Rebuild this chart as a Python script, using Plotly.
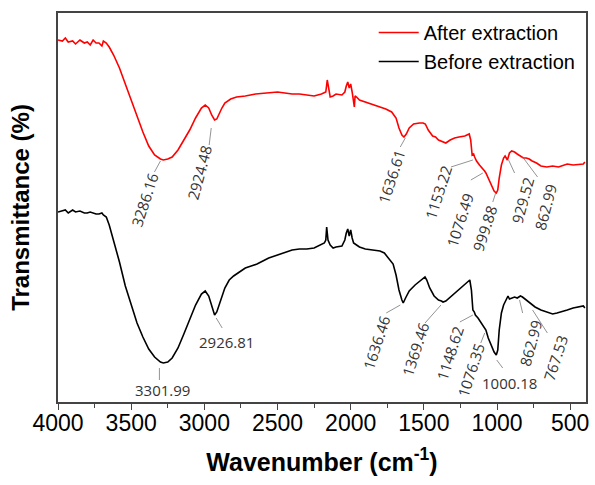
import plotly.graph_objects as go

# ---- data (wavenumber cm^-1, transmittance in arbitrary units) ----
after_wn = [4000, 3970, 3950, 3930, 3900, 3880, 3850, 3820, 3800, 3780, 3760, 3740, 3720, 3700, 3690, 3670,
            3650, 3620, 3580, 3540, 3500, 3460, 3420, 3380, 3340, 3300, 3280, 3250, 3220, 3180, 3140, 3100,
            3060, 3020, 2994, 2970, 2950, 2930, 2915, 2900, 2880, 2860, 2820, 2780, 2720, 2650, 2580, 2500,
            2450, 2400, 2350, 2300, 2250, 2200, 2170, 2160, 2150, 2140, 2120, 2100, 2060, 2040, 2030, 2020,
            2010, 2000, 1990, 1980, 1975, 1970, 1960, 1940, 1900, 1850, 1800, 1760, 1720, 1690, 1670, 1650,
            1636, 1620, 1600, 1570, 1530, 1505, 1490, 1470, 1440, 1420, 1400, 1380, 1350, 1320, 1290, 1260,
            1220, 1190, 1180, 1170, 1160, 1153, 1140, 1120, 1100, 1085, 1076, 1060, 1040, 1020, 1005, 995,
            985, 970, 955, 945, 929, 915, 900, 880, 862, 840, 820, 800, 780, 760, 730, 700, 660, 620, 580,
            560, 520, 480, 440, 410, 400]
after_t = [362, 361, 364, 360, 361, 358, 362, 359, 360, 357, 362, 359, 359, 356, 361, 359,
           355, 347, 334, 318, 302, 285, 270, 256, 247, 243, 242, 243, 245, 252, 262, 272,
           284, 294, 297, 294, 287, 282, 283, 288, 294, 299, 303, 305, 306, 308, 309, 310,
           309, 308, 308, 307, 306, 308, 310, 322, 312, 305, 306, 308, 307, 310, 316, 320,
           314, 318, 310, 302, 295, 306, 305, 302, 300, 298, 295, 293, 290, 284, 274, 267,
           265, 268, 274, 278, 279, 279, 278, 272, 266, 265, 262, 261, 259, 262, 264, 265,
           266, 268, 262, 247, 248, 245, 241, 237, 234, 231, 229, 224, 217, 211, 209, 212,
           224, 237, 244, 246, 242, 249, 251, 250, 248, 246, 244, 244, 243, 241, 239, 236, 235, 236, 235,
           236, 238, 237, 238, 238, 240]

before_wn = [4000, 3970, 3950, 3930, 3900, 3880, 3850, 3820, 3800, 3780, 3760, 3740, 3720, 3700, 3690, 3670,
             3650, 3620, 3580, 3540, 3500, 3460, 3420, 3380, 3340, 3300, 3280, 3250, 3220, 3180, 3140, 3100,
             3060, 3020, 2994, 2970, 2950, 2930, 2915, 2900, 2880, 2860, 2830, 2800, 2760, 2720, 2680, 2640,
             2600, 2560, 2520, 2480, 2440, 2400, 2350, 2300, 2250, 2200, 2180, 2170, 2164, 2155, 2140, 2120,
             2100, 2060, 2040, 2030, 2020, 2010, 2000, 1990, 1980, 1960, 1940, 1900, 1850, 1800, 1770, 1740,
             1710, 1690, 1670, 1650, 1641, 1625, 1600, 1560, 1520, 1492, 1480, 1460, 1430, 1400, 1380, 1369,
             1350, 1320, 1290, 1260, 1230, 1200, 1186, 1175, 1165, 1155, 1148, 1130, 1110, 1090, 1076, 1060,
             1040, 1020, 1005, 995, 985, 970, 955, 940, 925, 915, 900, 880, 862, 840, 826, 800, 767, 740, 700,
             660, 620, 590, 560, 520, 480, 440, 410, 400]
before_t = [190, 191, 192, 189, 192, 190, 191, 189, 189, 190, 189, 188, 188, 189, 187, 185,
            177, 162, 140, 116, 97, 79, 65, 53, 45, 40, 39, 40, 44, 54, 68, 82,
            97, 108, 111, 106, 96, 87, 90, 97, 105, 114, 122, 126, 130, 134, 136, 138,
            141, 144, 146, 148, 150, 152, 153, 153, 154, 157, 159, 162, 175, 162, 157, 154,
            155, 156, 162, 169, 173, 166, 172, 164, 159, 157, 155, 153, 152, 151, 149, 144,
            138, 127, 112, 102, 99, 104, 111, 117, 122, 125, 122, 114, 106, 102, 101, 100,
            101, 105, 109, 113, 117, 120, 122, 112, 92, 90, 87, 84, 80, 76, 72, 64,
            57, 50, 47, 52, 72, 89, 97, 102, 106, 103, 104, 105, 104, 106, 105, 102, 99, 95, 92,
            90, 88, 89, 90, 92, 94, 95, 96, 94]

series_names = ["After extraction", "Before extraction"]
series_colors = ["#ff0000", "#000000"]

# peak labels: (text, text_wn, text_t, angle, line_start_wn, line_start_t, line_end_wn, line_end_t)
after_labels = [
    ("3286.16", 3409, 202, -72, 3341, 230, 3300, 241),
    ("2924.48", 3035, 229, -75, 2967, 257, 2953, 274),
    ("1636.61", 1723, 225, -72, 1661, 255, 1627, 264),
    ("1153.22", 1403, 209, -72, 1315, 235, 1165, 242),
    ("1076.49", 1254, 182, -72, 1179, 222, 1097, 229),
    ("999.88", 1084, 174, -72, 1029, 200, 1009, 209),
    ("929.52", 825, 202, -75, 880, 229, 921, 242),
    ("862.99", 669, 195, -75, 723, 225, 825, 245),
]
before_labels = [
    ("3301.99", 3286, 12, 0, 3307, 22, 3307, 34),
    ("2926.81", 2851, 60, 0, 2878, 74, 2919, 84),
    ("1636.46", 1825, 59, -72, 1757, 89, 1661, 97),
    ("1369.46", 1560, 52, -72, 1492, 79, 1383, 97),
    ("1148.62", 1322, 49, -72, 1254, 80, 1165, 87),
    ("1076.35", 1179, 32, -72, 1111, 59, 1084, 69),
    ("1000.18", 914, 19, 0, 961, 34, 1002, 42),
    ("862.99", 771, 59, -75, 825, 89, 846, 102),
    ("767.53", 601, 44, -72, 656, 69, 757, 92),
]

x_ticks = [4000, 3500, 3000, 2500, 2000, 1500, 1000, 500]

fig = go.Figure()
fig.add_trace(go.Scatter(x=after_wn, y=after_t, mode="lines", name=series_names[0],
                         line=dict(color=series_colors[0], width=1.6)))
fig.add_trace(go.Scatter(x=before_wn, y=before_t, mode="lines", name=series_names[1],
                         line=dict(color=series_colors[1], width=1.6)))

ann_font = dict(family="Open Sans, DejaVu Sans", size=15, color="#333333")
for lab in after_labels + before_labels:
    txt, tx, ty, ang, x0, y0, x1, y1 = lab
    fig.add_annotation(x=tx, y=ty, text=txt, showarrow=False, textangle=ang,
                       font=ann_font, xref="x", yref="y")
    fig.add_shape(type="line", x0=x0, y0=y0, x1=x1, y1=y1, xref="x", yref="y",
                  line=dict(color="#777777", width=0.8))

fig.update_layout(
    width=595, height=485,
    margin=dict(l=58, r=6, t=13, b=83),
    plot_bgcolor="white", paper_bgcolor="white",
    font=dict(family="Arial, Liberation Sans", color="#000000"),
    showlegend=True,
    legend=dict(x=0.99, y=1.0, xanchor="right", yanchor="top",
                bgcolor="rgba(0,0,0,0)", font=dict(size=20, family="Arial, Liberation Sans"),
                itemwidth=40, tracegroupgap=0),
)
fig.update_xaxes(
    range=[4000, 392], tickvals=x_ticks, ticktext=[str(v) for v in x_ticks],
    ticks="outside", ticklen=6, tickwidth=1.2, tickcolor="#444444",
    ticklabelstandoff=-6,
    minor=dict(ticks="outside", ticklen=4, dtick=250, tick0=0, tickcolor="#444444", tickwidth=1),
    showline=True, linecolor="#444444", linewidth=1.5, mirror=True,
    showgrid=False, zeroline=False,
    tickfont=dict(size=23, family="Arial, Liberation Sans"),
    title=dict(text="<b>Wavenumber (cm<sup>-1</sup>)</b>",
               font=dict(size=25, family="Arial, Liberation Sans"), standoff=18),
)
fig.update_yaxes(
    range=[0, 389], showticklabels=False, ticks="",
    showline=True, linecolor="#444444", linewidth=1.5, mirror=True,
    showgrid=False, zeroline=False,
    title=dict(text="<b>Transmittance (%)</b>",
               font=dict(size=24, family="Arial, Liberation Sans"), standoff=20),
)

fig.write_html("out.html")
